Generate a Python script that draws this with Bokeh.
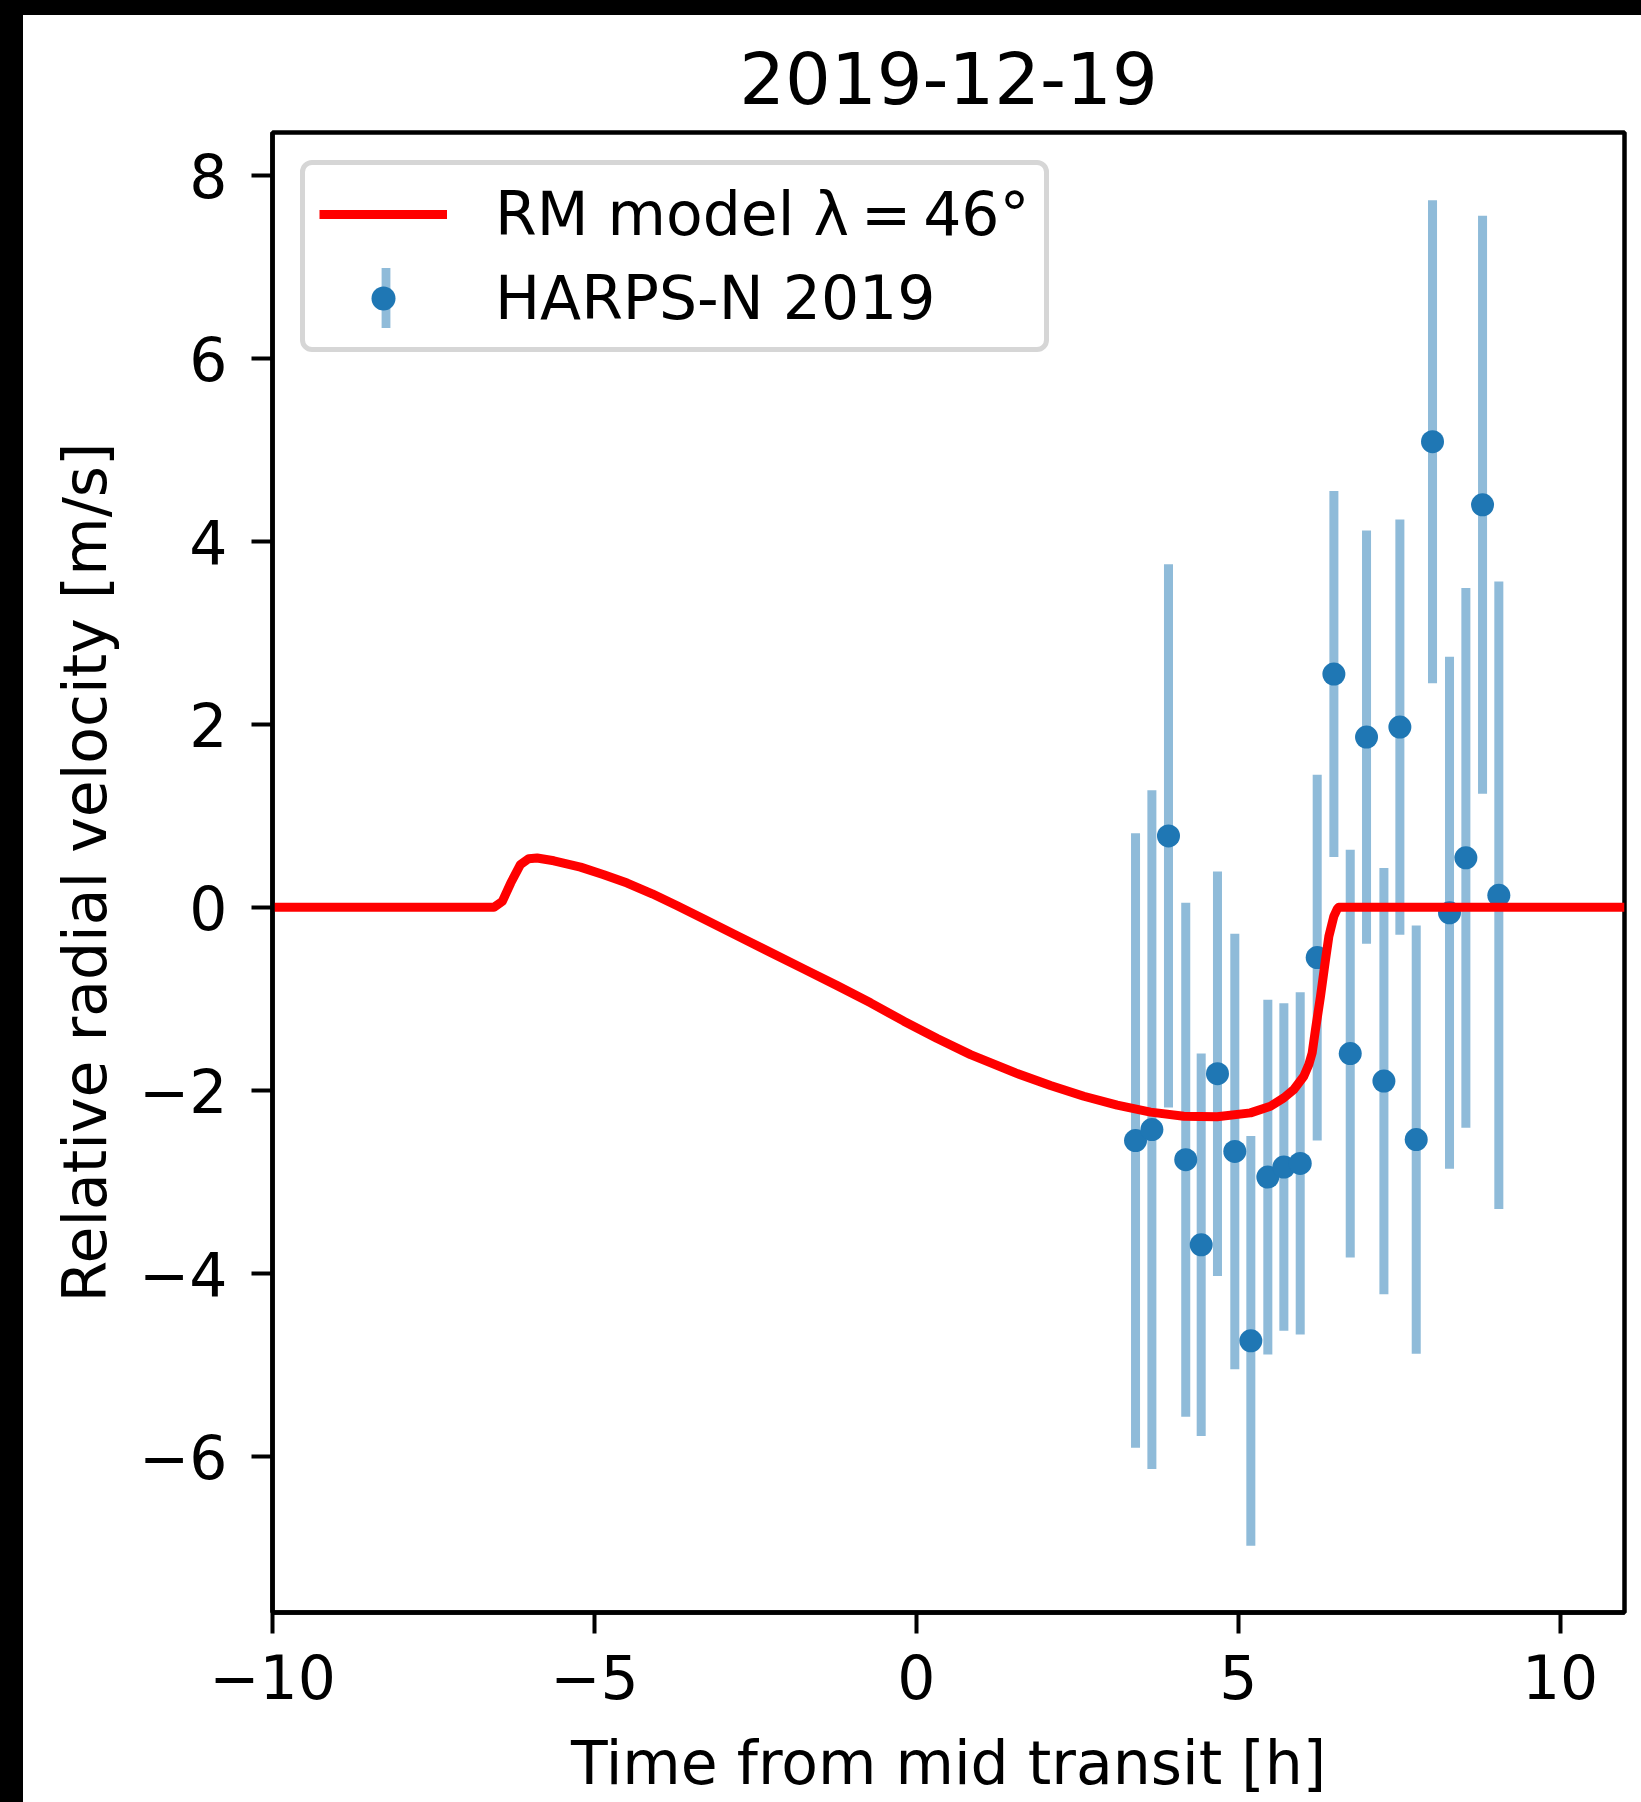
from bokeh.plotting import figure
from bokeh.models import (Range1d, FixedTicker, CustomJSTickFormatter, Legend,
                          LegendItem, Spacer)
from bokeh.layouts import row, column
from bokeh.embed import file_html
from bokeh.resources import INLINE

# ---------------- data ----------------
t_obs = [3.405, 3.659, 3.917, 4.185, 4.425, 4.678, 4.947, 5.196, 5.460, 5.709,
         5.963, 6.227, 6.486, 6.740, 6.993, 7.263, 7.511, 7.765, 8.018, 8.282,
         8.536, 8.795, 9.048]
rv_obs = [-2.55, -2.43, 0.78, -2.76, -3.69, -1.82, -2.67, -4.74, -2.95, -2.84,
          -2.80, -0.55, 2.55, -1.60, 1.86, -1.90, 1.97, -2.54, 5.09, -0.06,
          0.54, 4.40, 0.13]
rv_err = [3.36, 3.71, 2.97, 2.81, 2.09, 2.21, 2.38, 2.24, 1.94, 1.79,
          1.87, 2.00, 2.00, 2.23, 2.26, 2.33, 2.27, 2.34, 2.64, 2.80,
          2.95, 3.16, 3.43]

model_t = [-10.0, -6.56, -6.43, -6.30, -6.15, -6.02, -5.89, -5.63, -5.216, -4.854,
           -4.491, -4.102, -3.714, -3.300, -2.782, -2.265, -1.747, -1.229, -0.711,
           -0.194, 0.324, 0.842, 1.567, 2.084, 2.602, 3.120, 3.638, 4.155, 4.673,
           5.190, 5.501, 5.708, 5.864, 6.019, 6.097, 6.149, 6.200, 6.278, 6.356,
           6.408, 6.485, 6.537, 6.56, 11.0]
model_v = [0.0, 0.0, 0.064, 0.265, 0.465, 0.531, 0.538, 0.508, 0.439, 0.355,
           0.264, 0.147, 0.016, -0.129, -0.311, -0.493, -0.675, -0.857, -1.045,
           -1.245, -1.435, -1.611, -1.818, -1.949, -2.066, -2.164, -2.240, -2.284, -2.291,
           -2.248, -2.175, -2.084, -1.993, -1.848, -1.720, -1.592, -1.338, -0.974, -0.573,
           -0.319, -0.100, -0.020, 0.0, 0.0]

x_ticks = [-10, -5, 0, 5, 10]
y_ticks = [-6, -4, -2, 0, 2, 4, 6, 8]

title_text = "2019-12-19"
x_label = "Time from mid transit [h]"
y_label = "Relative radial velocity [m/s]"
model_label = "RM model \u03bb\u2009=\u200946\u00b0"
data_label = "HARPS-N 2019"

lo = [v - e for v, e in zip(rv_obs, rv_err)]
hi = [v + e for v, e in zip(rv_obs, rv_err)]

FONT = "DejaVu Sans"
BLUE = "#1f77b4"

p = figure(width=1618, height=1787, output_backend="svg", toolbar_location=None,
           x_range=Range1d(-10, 11), y_range=Range1d(-7.71, 8.47),
           min_border_left=249, min_border_right=17, min_border_top=117,
           min_border_bottom=190)

p.title.text = title_text
p.title.text_font = FONT
p.title.text_font_size = "72px"
p.title.text_font_style = "normal"
p.title.text_color = "black"
p.title.align = "center"
p.title.standoff = 58

p.background_fill_color = "white"
p.border_fill_color = "white"
p.grid.visible = False
p.outline_line_color = "black"
p.outline_line_width = 4.5
p.outline_line_alpha = 1

fmt = CustomJSTickFormatter(code="return (tick < 0 ? '\u2212' : '') + Math.abs(tick);")
p.xaxis.ticker = FixedTicker(ticks=x_ticks)
p.yaxis.ticker = FixedTicker(ticks=y_ticks)
for ax in (p.xaxis[0], p.yaxis[0]):
    ax.formatter = fmt
    ax.minor_tick_line_color = None
    ax.major_tick_in = 0
    ax.major_tick_out = 21
    ax.major_tick_line_width = 4
    ax.major_tick_line_color = "black"
    ax.axis_line_width = 4.5
    ax.axis_line_color = "black"
    ax.major_label_text_font = FONT
    ax.major_label_text_font_size = "60px"
    ax.major_label_text_color = "black"
    ax.axis_label_text_font = FONT
    ax.axis_label_text_font_size = "60px"
    ax.axis_label_text_font_style = "normal"
    ax.axis_label_text_color = "black"
p.xaxis.axis_label = x_label
p.yaxis.axis_label = y_label
p.xaxis.major_label_standoff = 20
p.xaxis.axis_label_standoff = 26
p.yaxis.major_label_standoff = 24
p.yaxis.axis_label_standoff = 16

bars = p.vbar(x=t_obs, bottom=lo, top=hi, width=0.14, fill_color=BLUE,
              fill_alpha=0.5, line_color=None)
dots = p.scatter(t_obs, rv_obs, size=23, fill_color=BLUE, line_color=None)
model = p.line(model_t, model_v, line_color="red", line_width=9, line_join="round")

# legend: error-bar glyph (drawn first, behind the marker)
leg_bar = Legend(items=[LegendItem(label=" ", renderers=[bars])],
                 location=(107.5, 1277.5), padding=0, margin=0, spacing=0,
                 glyph_width=11, glyph_height=75, label_height=75,
                 label_standoff=0, label_text_font_size="8px",
                 border_line_color=None, background_fill_alpha=0)
leg_main = Legend(items=[LegendItem(label=model_label, renderers=[model]),
                         LegendItem(label=data_label, renderers=[dots])],
                  location="top_left", margin=28, padding=14, spacing=14,
                  glyph_width=128, glyph_height=60, label_height=60,
                  label_standoff=48, label_text_font=FONT,
                  label_text_font_size="60px", label_text_color="black",
                  label_text_baseline="middle",
                  border_line_color="#d6d6d6", border_line_width=5,
                  border_line_alpha=1, background_fill_alpha=0)
try:
    leg_main.border_radius = 12
except Exception:
    pass
p.add_layout(leg_bar, "center")
p.add_layout(leg_main, "center")

top = Spacer(width=1641, height=15, styles={"background-color": "black"})
left = Spacer(width=23, height=1787, styles={"background-color": "black"})
layout = column(top, row(left, p))

open("out.html", "w").write(file_html(layout, INLINE))
